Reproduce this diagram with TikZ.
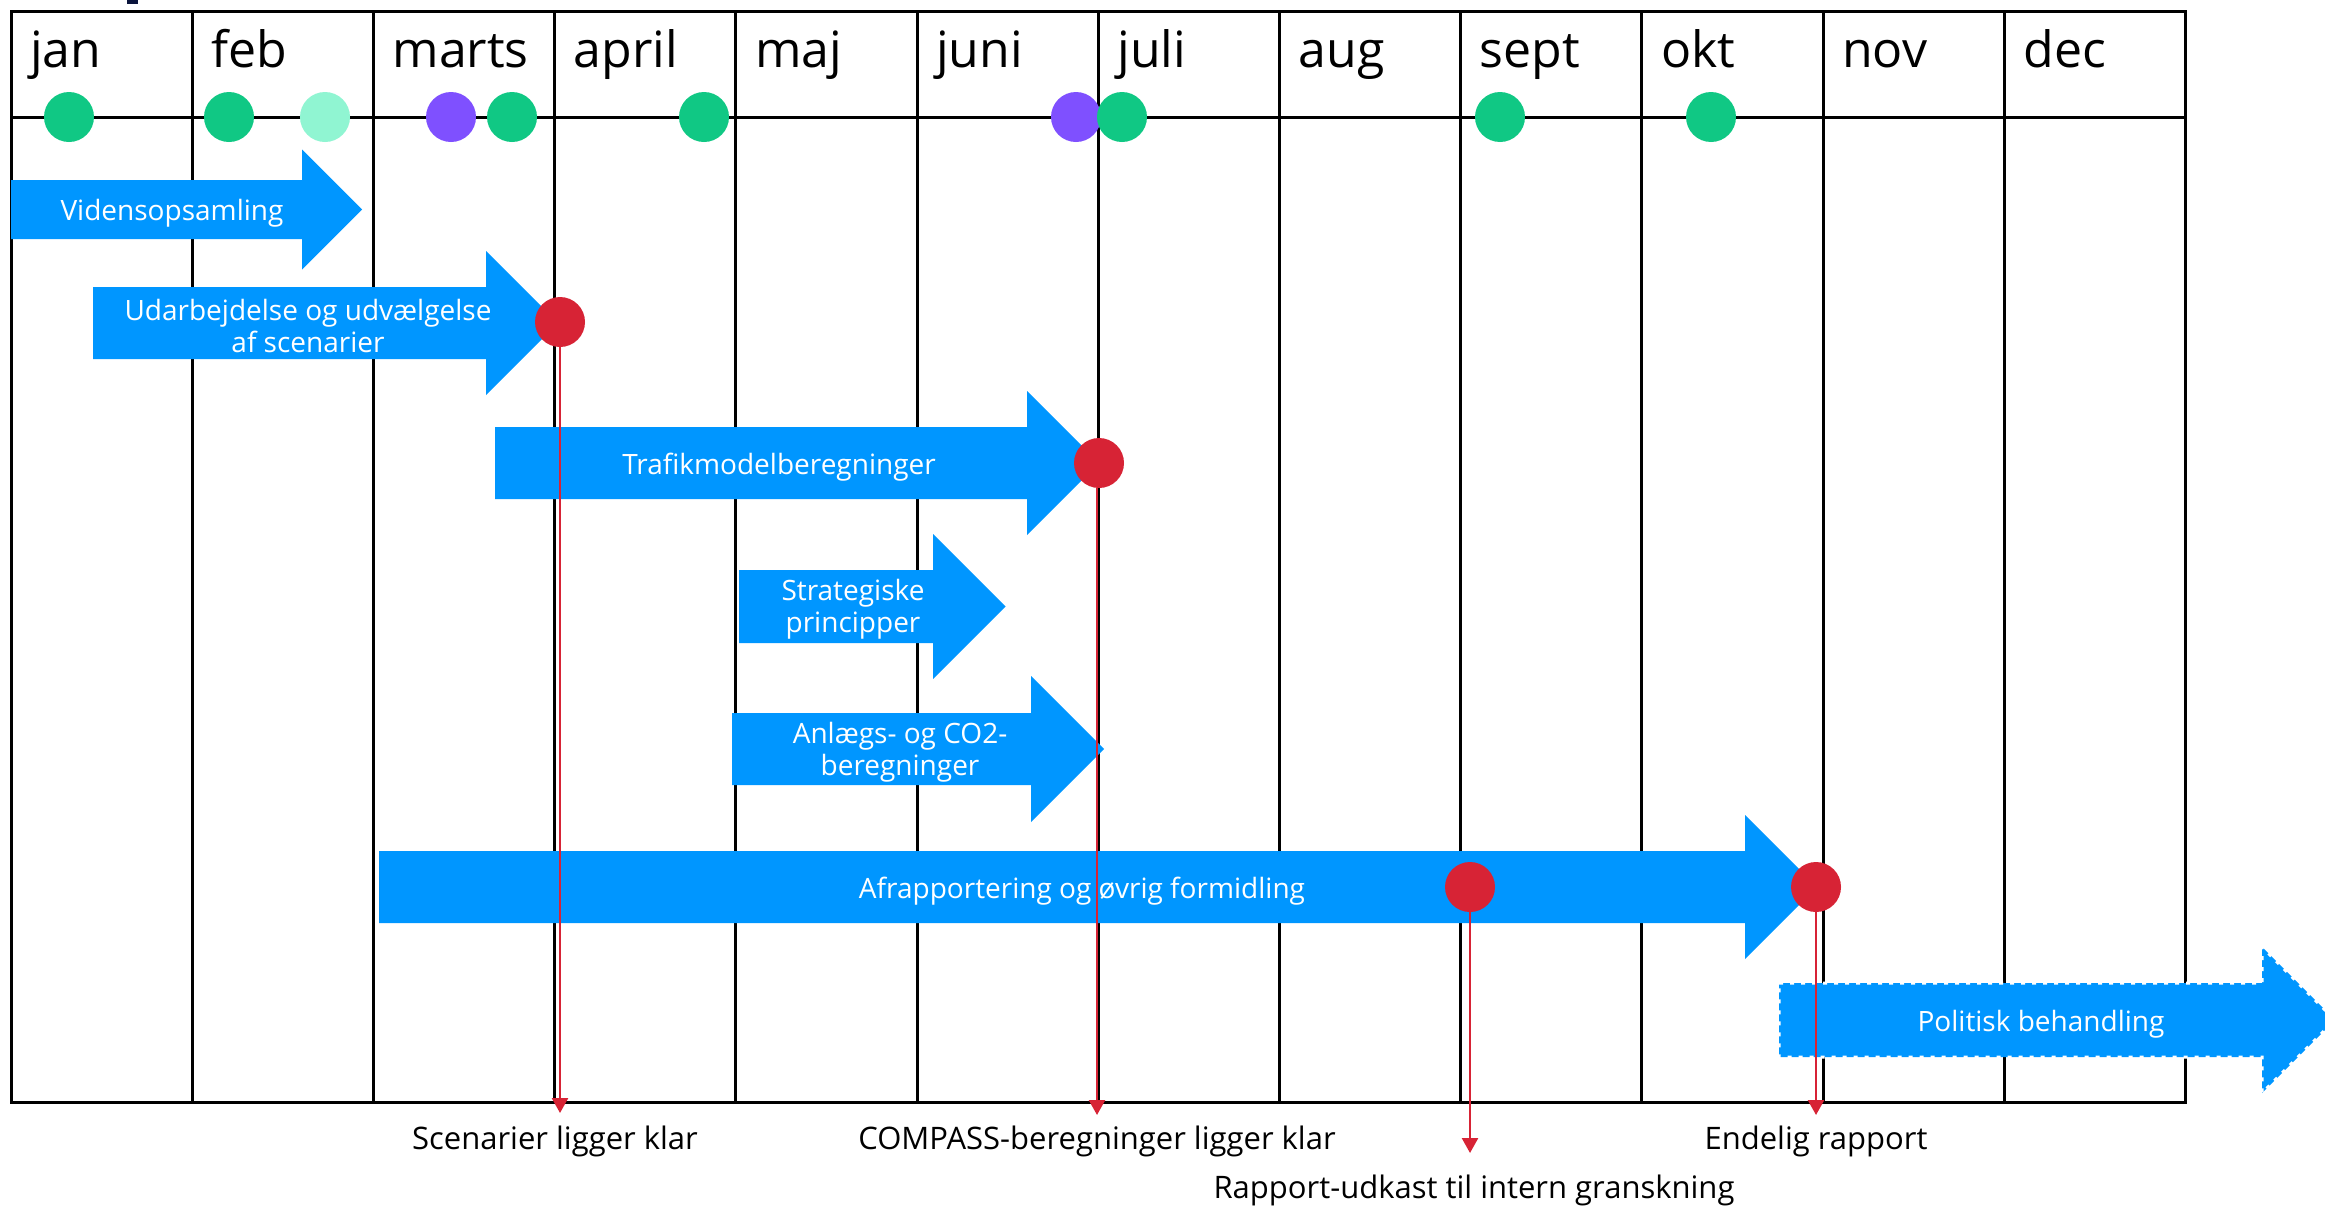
\documentclass[tikz,border=0pt]{standalone}
\usepackage{fontspec}
\setmainfont{Open Sans}
\usetikzlibrary{arrows.meta}
\definecolor{tlblue}{RGB}{0,150,255}
\definecolor{tlgreen}{RGB}{16,200,132}
\definecolor{tllight}{RGB}{144,245,210}
\definecolor{tlpurple}{RGB}{127,80,255}
\definecolor{tlred}{RGB}{215,35,53}
\definecolor{tlnavy}{RGB}{10,20,60}
% x1, head start, y centre, body half-height, head half-height, options
\newcommand\tlarrow[6]{\path[#6] (#1,#3-#4) -- (#2,#3-#4) -- (#2,#3-#5) -- (#2+#5,#3) -- (#2,#3+#5) -- (#2,#3+#4) -- (#1,#3+#4) -- cycle;}
\begin{document}
\begin{tikzpicture}[x=1pt,y=-1pt,
  gridline/.style={line width=3pt,black},
  month/.style={anchor=base west,inner sep=0pt,font=\fontsize{50}{60}\selectfont},
  hdot/.style={circle,minimum size=50pt,inner sep=0pt,fill=#1},
  mile/.style={circle,minimum size=50pt,inner sep=0pt,fill=tlred},
  alabel/.style={text=white,align=center,inner sep=0pt,font=\fontsize{28}{32}\selectfont},
  blabel/.style={anchor=base,inner sep=0pt,font=\fontsize{31}{36}\selectfont},
  mline/.style={tlred,line width=2.5pt,-{Triangle[width=16pt,length=15pt]}}]
\useasboundingbox (0,0) rectangle (2325,1205);
\clip (0,0) rectangle (2325,1205);
\fill[white] (0,0) rectangle (2325,1205);
\fill[tlnavy] (127,0) rectangle (138,4);
% grid
\draw[gridline] (11,11) rectangle (2185,1102);
\draw[gridline] (11,117) -- (2185,117);
\foreach \i in {1,...,11} \draw[gridline] ({11+\i*181.2},11) -- ({11+\i*181.2},1102);
% months
\foreach \m [count=\i from 0] in {jan,feb,marts,april,maj,juni,juli,aug,sept,okt,nov,dec}
  \node[month] (mo\i) at ({11+\i*181.2+19},67) {\m};
% block arrows
\tlarrow{11}{302}{209.5}{29.5}{60}{fill=tlblue}
\tlarrow{93}{486}{323}{36}{72}{fill=tlblue}
\tlarrow{495}{1027}{463}{36}{72}{fill=tlblue}
\tlarrow{739}{933}{606.5}{36.5}{72.5}{fill=tlblue}
\tlarrow{732}{1031}{749}{36}{73}{fill=tlblue}
\tlarrow{379}{1745}{887}{36}{72}{fill=tlblue}
\tlarrow{1779}{2262}{1020}{37}{73}{fill=tlblue}
\tlarrow{1779}{2262}{1020}{37}{73}{draw=white,line width=3pt,dash pattern=on 4pt off 7pt}
% arrow labels
\node[alabel] (a1) at (172,213) {Vidensopsamling};
\node[alabel] (a2) at (308,326) {Udarbejdelse og udvælgelse\\af scenarier};
\node[alabel] (a3) at (779,467) {Trafikmodelberegninger};
\node[alabel] (a4) at (853,609) {Strategiske\\principper};
\node[alabel] (a5) at (900,752) {Anlægs- og CO2-\\beregninger};
\node[alabel] (a6) at (1082,891) {Afrapportering og øvrig formidling};
\node[alabel] (a7) at (2041,1024) {Politisk behandling};
% header dots
\node[hdot=tlgreen] (d1) at (69,117) {};
\node[hdot=tlgreen] (d2) at (229,117) {};
\node[hdot=tllight] (d3) at (325,117) {};
\node[hdot=tlpurple] (d4) at (451,117) {};
\node[hdot=tlgreen] (d5) at (512,117) {};
\node[hdot=tlgreen] (d6) at (704,117) {};
\node[hdot=tlpurple] (d7) at (1076,117) {};
\node[hdot=tlgreen] (d8) at (1122,117) {};
\node[hdot=tlgreen] (d9) at (1500,117) {};
\node[hdot=tlgreen] (d10) at (1711,117) {};
% milestones
\coordinate (e1) at (560,1113);
\coordinate (e2) at (1097,1115);
\coordinate (e3) at (1470,1153);
\coordinate (e4) at (1816,1115);
\node[mile] (r1) at (560,322) {};
\node[mile] (r2) at (1099,463) {};
\node[mile] (r3) at (1470,887) {};
\node[mile] (r4) at (1816,887) {};
\draw[mline] (r1.south) -- (e1);
\draw[mline] (r2.south -| e2) -- (e2);
\draw[mline] (r3.south) -- (e3);
\draw[mline] (r4.south) -- (e4);
% bottom labels
\node[blabel] (l1) at (555,1149) {Scenarier ligger klar};
\node[blabel] (l2) at (1097,1149) {COMPASS-beregninger ligger klar};
\node[blabel] (l3) at (1474,1198) {Rapport-udkast til intern granskning};
\node[blabel] (l4) at (1816,1149) {Endelig rapport};
\end{tikzpicture}
\end{document}
